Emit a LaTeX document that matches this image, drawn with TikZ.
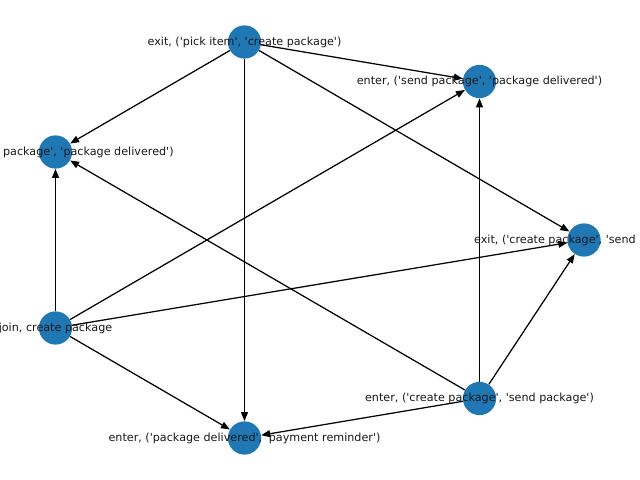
\documentclass[tikz,border=0pt]{standalone}
\usepackage{fontspec}
\newfontfamily\lblfont{DejaVu Sans}[Ligatures=ResetAll]
\usetikzlibrary{arrows.meta}
\definecolor{nodeblue}{HTML}{1F77B4}
\tikzset{
  vertex/.style={circle, fill=nodeblue, draw=none, minimum size=24, inner sep=0pt},
  lbl/.style={font=\lblfont\fontsize{8.07}{9.6}\selectfont, inner sep=0pt, text=black!90},
  edge/.style={draw=black, line width=0.9pt, -{Triangle[length=6.5pt, width=5pt]}}
}
\begin{document}
\begin{tikzpicture}[x=0.01in, y=-0.01in]
  \useasboundingbox (0,0) rectangle (640,480);
  \clip (0,0) rectangle (640,480);
  \fill[white] (0,0) rectangle (640,480);

  % vertices (circular layout)
  \node[vertex] (pick)    at (244.5, 42)  {};
  \node[vertex] (sendin)  at (479.5, 81.5) {};
  \node[vertex] (sendex)  at (55.5, 152)   {};
  \node[vertex] (createx) at (584, 240)  {};
  \node[vertex] (join)    at (55.5, 328)   {};
  \node[vertex] (createn) at (479.5, 398.5) {};
  \node[vertex] (payment) at (244.5, 438) {};

  % directed edges
  \draw[edge] (pick) -- (sendin);
  \draw[edge] (pick) -- (sendex);
  \draw[edge] (pick) -- (payment);
  \draw[edge] (pick) -- (createx);
  \draw[edge] (join) -- (sendex);
  \draw[edge] (join) -- (sendin);
  \draw[edge] (join) -- (createx);
  \draw[edge] (join) -- (payment);
  \draw[edge] (createn) -- (sendin);
  \draw[edge] (createn) -- (createx);
  \draw[edge] (createn) -- (sendex);
  \draw[edge] (createn) -- (payment);

  % labels (glyphs past the page edge are left out, keeping the centring)
  \node[lbl] (lpick)    at (pick)    {exit, ('pick item', 'create package')};
  \node[lbl] (lsendin)  at (sendin)  {enter, ('send package', 'package delivered')};
  \node[lbl] (lsendex)  at (sendex)  {\phantom{exit, ('send }package', 'package delivered')};
  \node[lbl] (lcreatex) at (createx) {exit, ('create package', 'send\phantom{ package')}};
  \node[lbl] (ljoin)    at (join)    {join, create package};
  \node[lbl] (lcreaten) at (createn) {enter, ('create package', 'send package')};
  \node[lbl] (lpayment) at (payment) {enter, ('package delivered', 'payment reminder')};
\end{tikzpicture}
\end{document}
